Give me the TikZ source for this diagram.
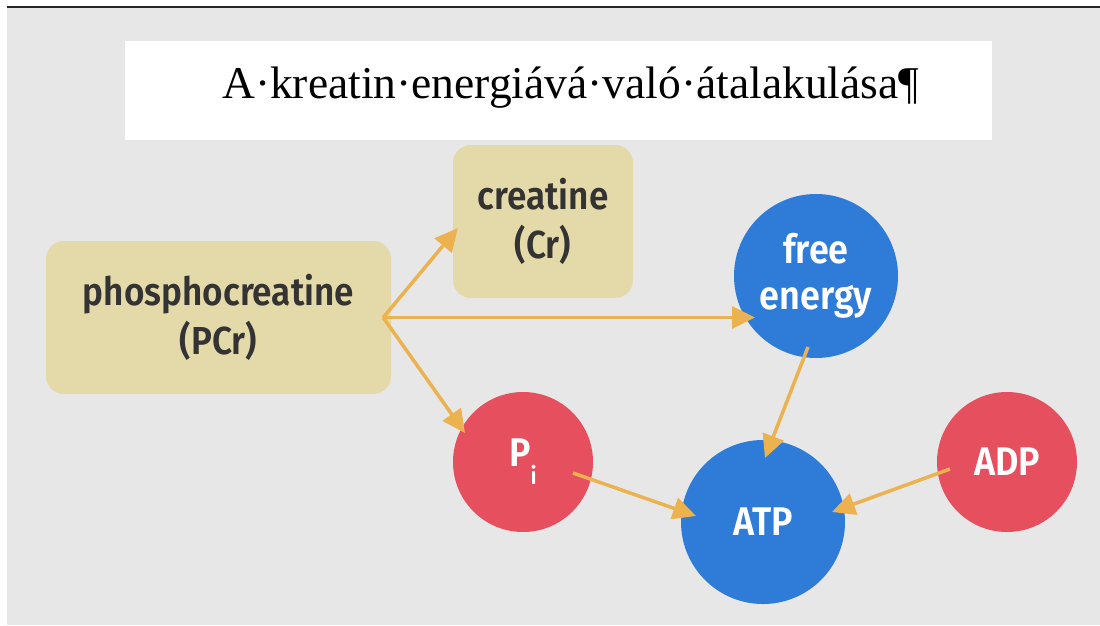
\documentclass[tikz,border=0pt]{standalone}
\usepackage{fontspec}
\setmainfont{Liberation Serif}
\newfontfamily\labelfont[FakeStretch=0.9, BoldFont={Fira Sans SemiBold}]{Fira Sans}
\usetikzlibrary{calc,arrows.meta,positioning}
\definecolor{bggray}{HTML}{E7E7E7}
\definecolor{boxtan}{HTML}{E4D9A8}
\definecolor{atpblue}{HTML}{2F7BD8}
\definecolor{adpred}{HTML}{E54F5E}
\definecolor{flowor}{HTML}{EBB24F}
\definecolor{labelgray}{HTML}{333333}

\begin{document}
\begin{tikzpicture}[x=1pt,y=-1pt,
  molbox/.style={fill=boxtan, rounded corners=18pt, inner sep=0pt, align=center,
                 text=labelgray, font=\labelfont\bfseries\fontsize{39}{49}\selectfont},
  ball/.style={circle, inner sep=0pt, align=center, text=white,
               font=\labelfont\bfseries\fontsize{40}{46}\selectfont},
  blueball/.style={ball, fill=atpblue, minimum size=164pt},
  redball/.style={ball, fill=adpred, minimum size=140pt},
  flow/.style={draw=flowor, line width=3.5pt, -{Triangle[length=23pt,width=22pt]}},
]
\useasboundingbox (0,0) rectangle (1100,625);
% background
\fill[bggray] (7,8) rectangle (1100,625);
\draw[line width=1.5pt, black!85] (7,7) -- (1100,7);

% title
\node[fill=white, minimum width=867pt, minimum height=99pt, inner sep=0pt] (banner) at (558.5,90.5) {};
\node[anchor=base west, inner sep=0pt, font=\fontsize{45.5}{50}\selectfont] (heading) at (222,98)
  {A·kreatin·energiává·való·átalakulása¶};

% boxes
\node[molbox, minimum width=345pt, minimum height=153pt] (pcr) at (218.5,317.5) {phosphocreatine\\(PCr)};
\node[molbox, minimum width=180pt, minimum height=153pt] (cr) at (543,221.5) {creatine\\(Cr)};

% circles
\node[blueball] (fe) at (816,276) {free\\energy};
\node[blueball] (atp) at (763,522) {ATP};
\node[redball] (pi) at (523,462) {P\raisebox{-0.45em}{\fontsize{24}{24}\selectfont i}};
\node[redball] (adp) at (1007,462) {ADP};

% arrows
\coordinate (hub) at ([xshift=-8pt]pcr.east);
\draw[flow] (hub) -- ($(cr.west)+(5,6.5)$);
\draw[flow] (hub) -- ($(fe)+(-61,41.5)$);
\draw[flow] (hub) -- ($(pi)+(-58,-29)$);
\draw[flow] ($(fe)+(-8,71)$) -- ($(atp)+(2,-64)$);
\draw[flow] ($(pi)+(50,11)$) -- ($(atp)+(-67,-6)$);
\draw[flow] ($(adp)+(-57,7)$) -- ($(atp)+(69,-10)$);
\end{tikzpicture}
\end{document}
